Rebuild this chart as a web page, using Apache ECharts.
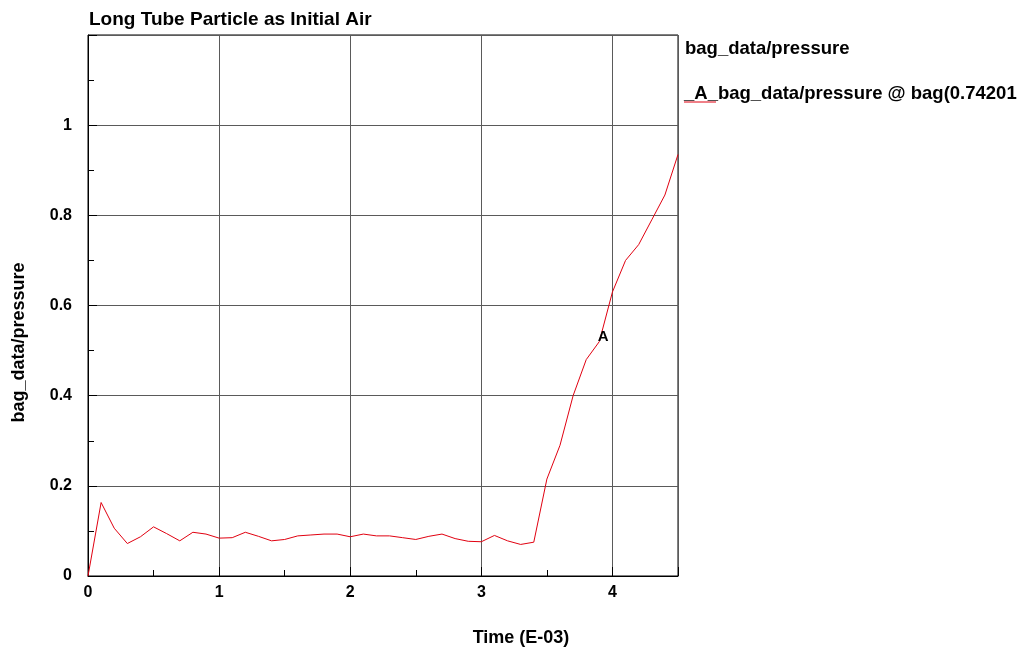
<!DOCTYPE html>
<html>
<head>
<meta charset="utf-8">
<script src="https://cdn.jsdelivr.net/npm/echarts@6/dist/echarts.min.js"></script>
<style>
  html, body { margin: 0; padding: 0; background: #fff; }
  #chart { width: 1028px; height: 654px; }
</style>
</head>
<body>
<div id="chart"></div>
<script>
// time (E-03) and pressure
var times = [0, 0.1, 0.2, 0.3, 0.4, 0.5, 0.6, 0.7, 0.8, 0.9,
  1.0, 1.1, 1.2, 1.3, 1.4, 1.5, 1.6, 1.7, 1.8, 1.9,
  2.0, 2.1, 2.2, 2.3, 2.4, 2.5, 2.6, 2.7, 2.8, 2.9,
  3.0, 3.1, 3.2, 3.3, 3.4, 3.5, 3.6, 3.7, 3.8, 3.9,
  4.0, 4.1, 4.2, 4.3, 4.4, 4.5];
var pressure = [0, 0.163, 0.106, 0.072, 0.087, 0.109, 0.094, 0.078, 0.097, 0.093,
  0.084, 0.085, 0.097, 0.088, 0.078, 0.081, 0.089, 0.091, 0.093, 0.093,
  0.087, 0.093, 0.089, 0.089, 0.085, 0.081, 0.088, 0.093, 0.083, 0.077,
  0.076, 0.090, 0.078, 0.070, 0.075, 0.215, 0.290, 0.400, 0.480, 0.520,
  0.630, 0.700, 0.735, 0.790, 0.845, 0.935];
var xTicks = [0, 1, 2, 3, 4];
var yTicks = [0, 0.2, 0.4, 0.6, 0.8, 1];
var markerA = [3.93, 0.53];

var font = 'Liberation Sans';
var chart = echarts.init(document.getElementById('chart'));

var points = times.map(function(t, i) { return [t, pressure[i]]; });

chart.setOption({
  animation: false,
  title: {
    text: 'Long Tube Particle as Initial Air',
    left: 84, top: 5,
    textStyle: { fontFamily: font, fontSize: 19, fontWeight: 'bold', color: '#000' }
  },
  grid: {
    left: 88, right: 350, top: 35, bottom: 78,
    show: true, borderColor: '#000', borderWidth: 1
  },
  xAxis: {
    type: 'value', min: 0, max: 4.5, interval: 1,
    name: 'Time (E-03)', nameLocation: 'middle', nameGap: 53,
    nameTextStyle: { fontFamily: font, fontSize: 18, fontWeight: 'bold', color: '#000', padding: [0, 0, 0, 276] },
    axisLine: { lineStyle: { color: '#000' } },
    axisTick: { inside: true, length: 9, lineStyle: { color: '#000' } },
    minorTick: { show: true, splitNumber: 2, length: 6, lineStyle: { color: '#000' } },
    axisLabel: {
      margin: 9, fontFamily: font, fontSize: 16, fontWeight: 'bold', color: '#000',
      formatter: function(v) { return xTicks.indexOf(v) >= 0 ? String(v) : ''; }
    },
    splitLine: { show: true, lineStyle: { color: '#5a5a5a', width: 1 } }
  },
  yAxis: {
    type: 'value', min: 0, max: 1.2, interval: 0.2,
    name: 'bag_data/pressure', nameLocation: 'middle', nameGap: 60,
    nameTextStyle: { fontFamily: font, fontSize: 18, fontWeight: 'bold', color: '#000', padding: [0, 74, 0, 0] },
    axisLine: { lineStyle: { color: '#000' } },
    axisTick: { inside: true, length: 9, lineStyle: { color: '#000' } },
    minorTick: { show: true, splitNumber: 2, length: 6, lineStyle: { color: '#000' } },
    axisLabel: {
      margin: 16, fontFamily: font, fontSize: 16, fontWeight: 'bold', color: '#000',
      formatter: function(v) {
        var r = Math.round(v * 10) / 10;
        return yTicks.indexOf(r) >= 0 ? String(r) : '';
      }
    },
    splitLine: { show: true, lineStyle: { color: '#5a5a5a', width: 1 } }
  },
  series: [{
    name: '_A_bag_data/pressure @ bag(0.74201',
    type: 'line',
    data: points,
    showSymbol: false,
    lineStyle: { color: '#e00010', width: 1 },
    itemStyle: { color: '#e00010' },
    markPoint: {
      symbol: 'circle', symbolSize: 2,
      itemStyle: { color: 'rgba(0,0,0,0)' },
      label: { show: true, position: 'inside', formatter: 'A', fontFamily: font, fontSize: 15, fontWeight: 'bold', color: '#000' },
      data: [{ coord: markerA }]
    }
  }],
  graphic: [
    {
      type: 'text', left: 685, top: 39,
      style: { text: 'bag_data/pressure', font: 'bold 18.5px "Liberation Sans"', fill: '#000' }
    },
    {
      type: 'text', left: 684, top: 84,
      style: { text: '_A_bag_data/pressure @ bag(0.74201', font: 'bold 18.5px "Liberation Sans"', fill: '#000' }
    },
    {
      type: 'line', shape: { x1: 684, y1: 102, x2: 716, y2: 102 },
      style: { stroke: '#e00010', lineWidth: 1 }
    }
  ]
});
</script>
</body>
</html>
